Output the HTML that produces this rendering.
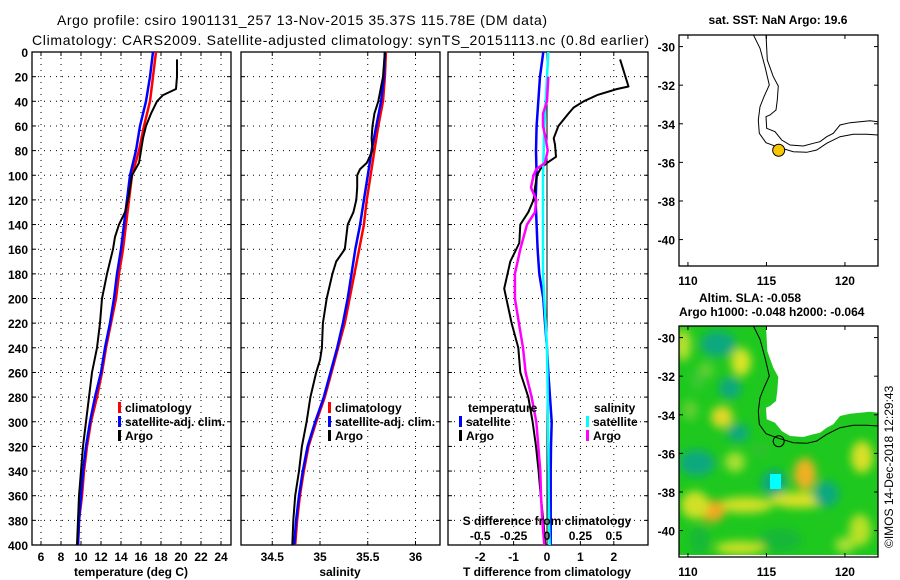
<!DOCTYPE html>
<html><head><meta charset="utf-8"><title>Argo profile</title>
<style>
html,body{margin:0;padding:0;background:#fff;}
svg{display:block;font-family:"Liberation Sans",sans-serif;}
.b{font-weight:bold;font-size:12px;}
.t{font-size:14px;}
</style></head>
<body>
<svg id="fig" width="900" height="580" viewBox="0 0 900 580" xmlns="http://www.w3.org/2000/svg">
<defs>
<clipPath id="c1"><rect x="32" y="52" width="199" height="493"/></clipPath>
<clipPath id="c2"><rect x="241" y="52" width="199" height="493"/></clipPath>
<clipPath id="c3"><rect x="448" y="52" width="200" height="493"/></clipPath>
<clipPath id="cm"><rect x="679" y="326" width="199" height="229"/></clipPath>
<filter id="blur" x="-30%" y="-30%" width="160%" height="160%"><feGaussianBlur stdDeviation="4.5"/></filter>
</defs>
<text class="t" x="57" y="25" textLength="490">Argo profile: csiro 1901131_257 13-Nov-2015 35.37S 115.78E (DM data)</text>
<text class="t" x="32" y="45" textLength="617">Climatology: CARS2009. Satellite-adjusted climatology: synTS_20151113.nc (0.8d earlier)</text>
<g id="p1"></g>
<g id="p2"></g>
<g id="p3"></g>
<g id="m1"></g>
<g id="m2"></g>
<text class="b" transform="translate(893,548) rotate(-90)" style="font-weight:normal;font-size:12px">©IMOS 14-Dec-2018 12:29:43</text>
</svg>
<script>
// ---------- data ----------
const depthTicks = [0,20,40,60,80,100,120,140,160,180,200,220,240,260,280,300,320,340,360,380,400];
const tTicks = [6,8,10,12,14,16,18,20,22,24];
const sTicks = [34.5,35,35.5,36];
const dTTicks = [-2,-1,0,1,2];
const dSTicks = [-0.5,-0.25,0,0.25,0.5];
const dSTickLabels = ['-0.5','-0.25','0','0.25','0.5'];

const climDepth = [0,20,40,60,80,100,120,140,160,180,200,220,240,260,280,300,320,340,360,380,400];
const climT = [17.5,17.2,16.9,16.3,15.8,15.1,14.8,14.5,14.2,13.8,13.5,13.0,12.5,12.1,11.6,11.0,10.6,10.3,10.1,9.8,9.7];
const satT  = [17.2,16.9,16.5,15.9,15.5,14.9,14.6,14.3,14.0,13.6,13.3,12.9,12.4,12.0,11.4,10.9,10.5,10.2,10.0,9.8,9.7];
const argoTDepth = [6,20,30,35,40,50,60,70,80,90,100,120,130,140,150,160,180,200,220,240,260,280,300,320,340,360,380,400];
const argoT = [19.6,19.6,19.5,18.2,17.6,17.0,16.5,16.2,16.0,15.8,15.1,14.7,14.4,13.8,13.4,13.2,12.6,12.1,11.9,11.6,11.1,10.8,10.5,10.2,10.0,9.8,9.7,9.6];

const climS = [35.69,35.68,35.66,35.61,35.57,35.53,35.49,35.46,35.41,35.36,35.31,35.26,35.19,35.12,35.05,34.96,34.88,34.83,34.79,34.76,34.74];
const satS  = [35.68,35.67,35.64,35.59,35.54,35.50,35.46,35.42,35.37,35.33,35.29,35.24,35.18,35.11,35.04,34.95,34.87,34.82,34.78,34.75,34.73];
const argoSDepth = [0,20,40,50,60,70,80,90,95,100,110,120,130,140,160,170,180,200,220,240,250,260,280,300,320,340,360,380,400];
const argoS = [35.68,35.66,35.61,35.57,35.55,35.54,35.55,35.49,35.42,35.39,35.39,35.38,35.35,35.29,35.26,35.17,35.13,35.07,35.03,35.02,35.0,34.96,34.90,34.86,34.81,34.78,34.74,34.72,34.71];

const dArgoTDepth = [6,28,30,35,40,45,50,60,70,75,85,90,95,100,110,120,130,140,155,170,192,220,240,260,280,300,320,340,360,380,400];
const dArgoT = [2.19,2.44,2.1,1.5,1.1,0.8,0.64,0.34,0.2,0.24,0.27,0.0,-0.2,-0.3,-0.36,-0.4,-0.56,-0.8,-0.83,-1.1,-1.28,-1.06,-0.86,-0.8,-0.56,-0.43,-0.33,-0.25,-0.19,-0.11,-0.05];
const dSatT = [-0.11,-0.21,-0.26,-0.31,-0.33,-0.31,-0.34,-0.31,-0.28,-0.23,-0.11,-0.06,0.0,0.04,0.09,0.14,0.12,0.11,0.11,0.11,0.11];
const dSatS = [0.01,0.0,-0.01,-0.02,-0.025,-0.03,-0.03,-0.03,-0.03,-0.03,-0.02,-0.01,0.0,0.003,0.005,0.008,0.01,0.012,0.013,0.015,0.02];
const dArgoSDepth = [20,40,50,60,70,80,90,95,100,110,120,130,140,160,180,200,220,240,260,280,300,320,340,360,380,400];
const dArgoS = [0.01,0.0,-0.03,-0.03,-0.01,0.005,-0.015,-0.08,-0.1,-0.12,-0.08,-0.09,-0.15,-0.2,-0.24,-0.24,-0.21,-0.18,-0.16,-0.115,-0.08,-0.065,-0.05,-0.045,-0.035,-0.02];

const latTicks = [-30,-32,-34,-36,-38,-40];
const lonTicks = [110,115,120];
const argoLon = 115.78, argoLat = -35.37;

// ---------- helpers ----------
const NS='http://www.w3.org/2000/svg';
function mk(tag, attrs, parent){const e=document.createElementNS(NS,tag);for(const k in attrs)e.setAttribute(k,attrs[k]);parent.appendChild(e);return e;}
const yD = d => 52 + d*493/400;
const xT = t => 41 + (t-6)*10;
const xS = s => 320 + (s-35)*95.5;
const xDT = t => 547 + t*33.4;
const xDS = s => 547 + s*133.6;
const mX = lon => 679 + (lon-109.43)*15.7;
const mY = lat => 35 + (-29.4-lat)*19.3;

function frame(g,x0,x1,name){
  const r=mk('rect',{x:x0,y:52,width:x1-x0,height:493,fill:'none',stroke:'#000','stroke-width':1.3},g);
  
  
  depthTicks.forEach(d=>{
    if(d>0&&d<400){const l=mk('line',{x1:x0,x2:x1,y1:yD(d),y2:yD(d),stroke:'#000','stroke-dasharray':'1,5'},g);
    
    }
    mk('line',{x1:x0,x2:x0+4,y1:yD(d),y2:yD(d),stroke:'#000'},g);
    mk('line',{x1:x1-4,x2:x1,y1:yD(d),y2:yD(d),stroke:'#000'},g);
  });
}
function vgrid(g,vals,fx,x0,x1,labels,ly){
  vals.forEach((v,i)=>{
    const x=fx(v);
    const l=mk('line',{x1:x,x2:x,y1:52,y2:545,stroke:'#000','stroke-dasharray':'1,5'},g);
    
    
    mk('line',{x1:x,x2:x,y1:52,y2:56,stroke:'#000'},g);
    mk('line',{x1:x,x2:x,y1:541,y2:545,stroke:'#000'},g);
    const t=mk('text',{x:x,y:ly,'text-anchor':'middle','class':'b'},g);
    t.textContent = labels? labels[i] : String(v);
    
    
  });
}
function line(g,xs,ds,fx,color,w,name,clip){
  const p=ds.map((d,i)=>(i?'L':'M')+fx(xs[i]).toFixed(1)+','+yD(d).toFixed(1)).join('');
  const e=mk('path',{d:p,fill:'none',stroke:color,'stroke-width':w,'clip-path':'url(#'+clip+')','stroke-linejoin':'round'},g);
  
  
}
function legendEntry(g,x,y,color,label,name){
  mk('rect',{x:x,y:y-10,width:3,height:11,fill:color},g);
  const t=mk('text',{x:x+7,y:y,'class':'b'},g);
  t.textContent=label;
  
  
}

// ---------- panel 1 ----------
const p1=document.getElementById('p1');
frame(p1,32,231,'temperature');
depthTicks.forEach(d=>{
  const t=mk('text',{x:28,y:yD(d)+5,'text-anchor':'end','class':'b'},p1);
  t.textContent=d;
  
  
});
vgrid(p1,tTicks,xT,32,231,null,561);
line(p1,climT,climDepth,xT,'#f00',2.5,'climatology-temperature-line','c1');
line(p1,satT,climDepth,xT,'#00f',2.5,'satellite-temperature-line','c1');
line(p1,argoT,argoTDepth,xT,'#000',2,'argo-temperature-line','c1');
legendEntry(p1,118,412,'#f00','climatology','legend-climatology');
legendEntry(p1,118,426,'#00f','satellite-adj. clim.','legend-satellite');
legendEntry(p1,118,440,'#000','Argo','legend-argo');
{const t=mk('text',{x:131,y:576,'text-anchor':'middle','class':'b'},p1);t.textContent='temperature (deg C)';

}

// ---------- panel 2 ----------
const p2=document.getElementById('p2');
frame(p2,241,440,'salinity');
vgrid(p2,sTicks,xS,241,440,null,561);
line(p2,climS,climDepth,xS,'#f00',2.5,'climatology-salinity-line','c2');
line(p2,satS,climDepth,xS,'#00f',2.5,'satellite-salinity-line','c2');
line(p2,argoS,argoSDepth,xS,'#000',2,'argo-salinity-line','c2');
legendEntry(p2,328,412,'#f00','climatology','legend-climatology-sal');
legendEntry(p2,328,426,'#00f','satellite-adj. clim.','legend-satellite-sal');
legendEntry(p2,328,440,'#000','Argo','legend-argo-sal');
{const t=mk('text',{x:340,y:576,'text-anchor':'middle','class':'b'},p2);t.textContent='salinity';

}

// ---------- panel 3 ----------
const p3=document.getElementById('p3');
frame(p3,448,648,'difference');
vgrid(p3,dTTicks,xDT,448,648,null,561);
{const z=mk('line',{x1:547,x2:547,y1:52,y2:545,stroke:'#000','stroke-width':1},p3);

}
line(p3,dSatT,climDepth,xDT,'#00f',2.5,'satellite-t-diff-line','c3');
line(p3,dArgoT,dArgoTDepth,xDT,'#000',2,'argo-t-diff-line','c3');
line(p3,dSatS,climDepth,xDS,'#0ff',2.5,'satellite-s-diff-line','c3');
line(p3,dArgoS,dArgoSDepth,xDS,'#f0f',2.5,'argo-s-diff-line','c3');
{const t=mk('text',{x:468,y:412,'class':'b'},p3);t.textContent='temperature';


const s=mk('text',{x:594,y:412,'class':'b'},p3);s.textContent='salinity';

}
legendEntry(p3,459,426,'#00f','satellite','legend-t-satellite');
legendEntry(p3,459,440,'#000','Argo','legend-t-argo');
legendEntry(p3,586,426,'#0ff','satellite','legend-s-satellite');
legendEntry(p3,586,440,'#f0f','Argo','legend-s-argo');
{const t=mk('text',{x:547,y:525,'text-anchor':'middle','class':'b'},p3);t.textContent='S difference from climatology';

}
dSTicks.forEach((v,i)=>{
  const t=mk('text',{x:xDS(v),y:540,'text-anchor':'middle','class':'b'},p3);
  t.textContent=dSTickLabels[i];
  
  
});
{const t=mk('text',{x:547,y:576,'text-anchor':'middle','class':'b'},p3);t.textContent='T difference from climatology';

}

// ---------- maps ----------
const coastPx=[[766,34.7],[767.3,60],[773.3,76.7],[778.3,86],[777.3,100],[776,110],[770,115],[766,116.7],[766.7,128.3],[775,131.7],[781.7,140],[790,145],[803.3,146],[813.3,143.3],[820,141.7],[826.7,136.7],[833.3,133.3],[840,125],[850,122.7],[860,121.7],[870,120.7],[878,121.7]];
const isoPx=[[753.3,34.7],[760,48.3],[765,66.7],[769.3,85],[764,96.7],[760,106.7],[758.3,120],[759.3,133.3],[766,142.7],[776.7,146.7],[793.3,151.7],[806.7,152.3],[816.7,150],[826.7,143.3],[840,136.7],[853.3,134.3],[866.7,134.3],[878,135]];
function pathOf(pts,dy){return pts.map((p,i)=>(i?'L':'M')+p[0]+','+(p[1]+dy)).join('');}
function mapAxes(g,y0,dy,name){
  const r=mk('rect',{x:679,y:y0,width:199,height:231,fill:'none',stroke:'#000','stroke-width':1.3},g);
  
  
  latTicks.forEach(v=>{
    const y=mY(v)+dy;
    mk('line',{x1:679,x2:683,y1:y,y2:y,stroke:'#000'},g);
    mk('line',{x1:874,x2:878,y1:y,y2:y,stroke:'#000'},g);
    const t=mk('text',{x:675,y:y+5,'text-anchor':'end','class':'b'},g);t.textContent=v;
    
    
  });
  lonTicks.forEach(v=>{
    const x=mX(v);
    mk('line',{x1:x,x2:x,y1:y0,y2:y0+4,stroke:'#000'},g);
    mk('line',{x1:x,x2:x,y1:y0+227,y2:y0+231,stroke:'#000'},g);
    const t=mk('text',{x:x,y:y0+250,'text-anchor':'middle','class':'b'},g);t.textContent=v;
    
    
  });
}
// top map
const m1=document.getElementById('m1');
{const t=mk('text',{x:778,y:24,'text-anchor':'middle','class':'b'},m1);t.textContent='sat. SST: NaN Argo: 19.6';

}
{const c=mk('path',{d:pathOf(coastPx,0),fill:'none',stroke:'#000','stroke-width':1},m1);


const i=mk('path',{d:pathOf(isoPx,0),fill:'none',stroke:'#000','stroke-width':1},m1);


const d=mk('circle',{cx:mX(argoLon),cy:mY(argoLat),r:6,fill:'#f7c600',stroke:'#000','stroke-width':1},m1);

}
mapAxes(m1,35,0,'sst-map');

// bottom map
const m2=document.getElementById('m2');
const DY=291;
{const t=mk('text',{x:750,y:302,'text-anchor':'middle','class':'b'},m2);t.textContent='Altim. SLA: -0.058';


const t2=mk('text',{x:679,y:316,'class':'b'},m2);t2.textContent='Argo h1000: -0.048 h2000: -0.064';

}
const field=mk('g',{'clip-path':'url(#cm)'},m2);


mk('rect',{x:679,y:326,width:199,height:229,fill:'#1ec81e'},field);
const blobs=mk('g',{filter:'url(#blur)'},field);
[[683,345,8,16,'#b8e030'],[718,344,18,13,'#10a880'],[741,362,10,14,'#d8e428'],[706,370,8,8,'#60d030'],
 [730,388,11,11,'#10a880'],[722,417,11,11,'#e0d828'],[690,410,8,10,'#60d030'],[698,380,6,10,'#40c838'],
 [738,433,11,9,'#10a880'],[697,463,18,13,'#10a880'],[735,462,10,10,'#a8e030'],[760,450,8,6,'#30c030'],
 [774,483,13,13,'#10a880'],[805,474,11,16,'#f0b020'],[800,500,30,8,'#d8e028'],[745,505,28,8,'#d0e028'],
 [712,511,13,11,'#f0a820'],[695,505,14,14,'#d0e028'],[826,494,13,13,'#10a880'],[862,457,11,16,'#d8e028'],
 [780,540,22,12,'#18b838'],[740,548,25,7,'#c8e028'],[860,530,11,16,'#b8e028'],[700,540,10,14,'#18b838'],[845,545,10,8,'#a8e030']
].forEach(b=>mk('ellipse',{cx:b[0],cy:b[1],rx:b[2],ry:b[3],fill:b[4]},blobs));
mk('rect',{x:770,y:474,width:11,height:15,fill:'#00ffff'},field);
{const land=mk('path',{d:pathOf(coastPx,DY)+'L878,'+(34.7+DY)+'Z',fill:'#fff',stroke:'none'},field);


const iso=mk('path',{d:pathOf(isoPx,DY),fill:'none',stroke:'#000','stroke-width':1},field);


const c=mk('circle',{cx:mX(argoLon),cy:mY(argoLat)+DY,r:5.5,fill:'none',stroke:'#000','stroke-width':1},field);

}
mapAxes(m2,326,DY,'sla-map');
</script>
</body></html>
